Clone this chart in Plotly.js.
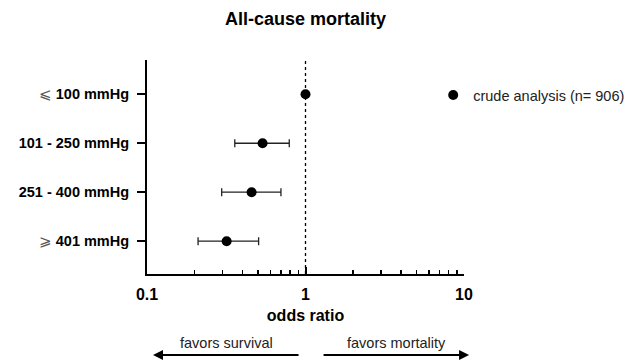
<!DOCTYPE html>
<html>
<head>
<meta charset="utf-8">
<script src="https://cdn.plot.ly/plotly-3.0.1.min.js"></script>
<style>html,body{margin:0;padding:0;background:#fff;}#chart{width:641px;height:364px;}</style>
</head>
<body>
<div id="chart"></div>
<script>
const categories = ["⩽ 100 mmHg", "101 - 250 mmHg", "251 - 400 mmHg", "⩾ 401 mmHg"];
const oddsRatio = [1.0, 0.536, 0.457, 0.318];
const ciLow = [1.0, 0.358, 0.296, 0.210];
const ciHigh = [1.0, 0.79, 0.70, 0.506];
const seriesName = "crude analysis (n= 906)";
const xTickVals = [0.1, 1, 10];
const xTickText = ["0.1", "1", "10"];

const font = "Arial, 'Liberation Sans', sans-serif";
const ypos = categories.map((c, i) => i);
const yTickText = categories.map(c => /^[⩽⩾]/.test(c)
  ? "<span style='color:#555'>" + c[0] + "</span> <b>" + c.slice(1).trim() + "</b>"
  : "<b>" + c + "</b>");

const trace = {
  type: "scatter",
  mode: "markers",
  x: oddsRatio,
  y: ypos,
  name: seriesName,
  marker: {color: "#000", size: 10},
  error_x: {
    type: "data",
    symmetric: false,
    array: oddsRatio.map((v, i) => ciHigh[i] - v),
    arrayminus: oddsRatio.map((v, i) => v - ciLow[i]),
    color: "#222",
    thickness: 1.3,
    width: 4
  },
  showlegend: true
};

const layout = {
  width: 641, height: 364,
  margin: {l: 147, r: 176, t: 60, b: 90},
  paper_bgcolor: "#fff", plot_bgcolor: "#fff",
  font: {family: font, color: "#000"},
  title: {text: "<b>All-cause mortality</b>", font: {size: 18, family: font, color: "#000"}, x: 0.5, xref: "paper", y: 0.95, yref: "container", yanchor: "middle"},
  xaxis: {
    type: "log", range: [-1, 1],
    tickvals: xTickVals, ticktext: xTickText,
    tickfont: {size: 16, family: font, color: "#000", weight: "bold"},
    ticks: "inside", ticklen: 7, tickwidth: 2, tickcolor: "#000",
    ticklabelstandoff: 5,
    minor: {ticks: "inside", ticklen: 4, tickwidth: 1.5, tickcolor: "#000", tickvals: [0.2,0.3,0.4,0.5,0.6,0.7,0.8,0.9,2,3,4,5,6,7,8,9]},
    showline: true, linewidth: 2, linecolor: "#000",
    showgrid: false, zeroline: false,
    title: {text: "<b>odds ratio</b>", font: {size: 16, family: font, color: "#000"}, standoff: 8}
  },
  yaxis: {
    range: [3.67, -0.70],
    tickvals: ypos, ticktext: yTickText,
    tickfont: {size: 14.5, family: font, color: "#000"},
    ticks: "outside", ticklen: 8, tickwidth: 2, tickcolor: "#000",
    ticklabelstandoff: 5,
    showline: true, linewidth: 2, linecolor: "#000",
    showgrid: false, zeroline: false
  },
  showlegend: true,
  legend: {x: 0.9, xanchor: "left", y: 0.836, yanchor: "middle", font: {size: 14.5, family: font, color: "#222"}, bgcolor: "rgba(0,0,0,0)"},
  shapes: [
    {type: "line", xref: "x", yref: "paper", x0: 1, x1: 1, y0: 0, y1: 1, line: {color: "#000", width: 1.3, dash: "dot"}}
  ],
  annotations: [
    {xref: "paper", yref: "paper", x: 0.019, y: -0.3785, ax: 147, ay: 0, axref: "pixel", ayref: "pixel", text: "", showarrow: true, arrowhead: 2, arrowsize: 1, arrowwidth: 2, arrowcolor: "#000"},
    {xref: "paper", yref: "paper", x: 1.016, y: -0.3785, ax: -147, ay: 0, axref: "pixel", ayref: "pixel", text: "", showarrow: true, arrowhead: 2, arrowsize: 1, arrowwidth: 2, arrowcolor: "#000"},
    {xref: "paper", yref: "paper", x: 0.2516, y: -0.322, text: "favors survival", showarrow: false, font: {size: 14.5, family: font, color: "#222"}, xanchor: "center", yanchor: "middle"},
    {xref: "paper", yref: "paper", x: 0.786, y: -0.322, text: "favors mortality", showarrow: false, font: {size: 14.5, family: font, color: "#222"}, xanchor: "center", yanchor: "middle"}
  ]
};

Plotly.newPlot("chart", [trace], layout, {displayModeBar: false, staticPlot: true});
</script>
</body>
</html>
